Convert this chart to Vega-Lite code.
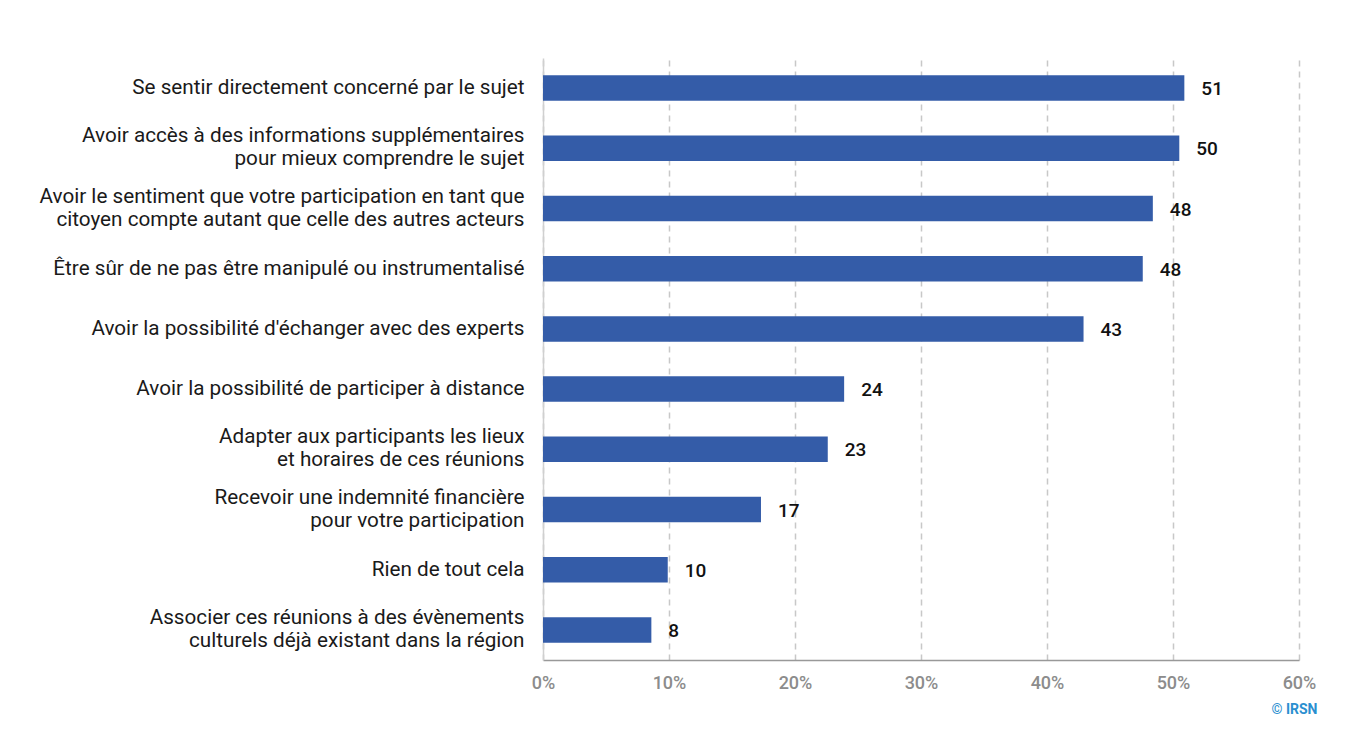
{
  "$schema": "https://vega.github.io/schema/vega-lite/v6.json",
  "autosize": {"type": "none"},
  "width": 756,
  "height": 602,
  "padding": {"left": 543, "top": 58, "right": 53, "bottom": 89},
  "background": "white",
  "config": {
    "font": "Roboto",
    "view": {"stroke": null}
  },
  "data": {
    "values": [
      {"item": "Se sentir directement concerné par le sujet", "value": 50.9, "label": "51"},
      {"item": "Avoir accès à des informations supplémentaires|pour mieux comprendre le sujet", "value": 50.5, "label": "50"},
      {"item": "Avoir le sentiment que votre participation en tant que|citoyen compte autant que celle des autres acteurs", "value": 48.4, "label": "48"},
      {"item": "Être sûr de ne pas être manipulé ou instrumentalisé", "value": 47.6, "label": "48"},
      {"item": "Avoir la possibilité d'échanger avec des experts", "value": 42.9, "label": "43"},
      {"item": "Avoir la possibilité de participer à distance", "value": 23.9, "label": "24"},
      {"item": "Adapter aux participants les lieux|et horaires de ces réunions", "value": 22.6, "label": "23"},
      {"item": "Recevoir une indemnité financière|pour votre participation", "value": 17.3, "label": "17"},
      {"item": "Rien de tout cela", "value": 9.9, "label": "10"},
      {"item": "Associer ces réunions à des évènements|culturels déjà existant dans la région", "value": 8.6, "label": "8"}
    ]
  },
  "encoding": {
    "y": {
      "field": "item",
      "type": "nominal",
      "sort": null,
      "scale": {"paddingInner": 0.576, "paddingOuter": 0.288},
      "axis": {
        "title": null,
        "labelExpr": "split(datum.label, '|')",
        "labelFontSize": 20.7,
        "labelColor": "#1a1a1a",
        "labelLineHeight": 23,
        "labelPadding": 19,
        "labelLimit": 700,
        "labelOffset": {"condition": {"test": "indexof(datum.value, '|') >= 0", "value": -12}, "value": 0},
        "ticks": false,
        "domainColor": "#d0d0d0",
        "domainWidth": 1.5,
        "grid": false
      }
    },
    "x": {
      "field": "value",
      "type": "quantitative",
      "scale": {"domain": [0, 60], "nice": false},
      "axis": {
        "values": [0, 10, 20, 30, 40, 50, 60],
        "labelExpr": "datum.value + '%'",
        "labelFlush": false,
        "labelFontSize": 18,
        "labelFontWeight": 500,
        "labelColor": "#8c8c8c",
        "labelPadding": 14,
        "ticks": false,
        "domainColor": "#999999",
        "domainWidth": 1.5,
        "grid": true,
        "gridDash": [6, 5],
        "gridColor": "#c8c8c8",
        "gridWidth": 1.5,
        "title": "© IRSN",
        "titleFontSize": 14,
        "titleFontWeight": "bold",
        "titleColor": "#2a8fd0",
        "titleAlign": "right",
        "titleAnchor": "end",
        "titleX": 774,
        "titleY": 42
      }
    }
  },
  "layer": [
    {"mark": {"type": "bar", "color": "#345ca8"}},
    {
      "mark": {"type": "text", "align": "left", "dx": 17, "dy": 1, "fontSize": 19, "fontWeight": 500, "color": "#111111"},
      "encoding": {"text": {"field": "label"}}
    }
  ]
}
